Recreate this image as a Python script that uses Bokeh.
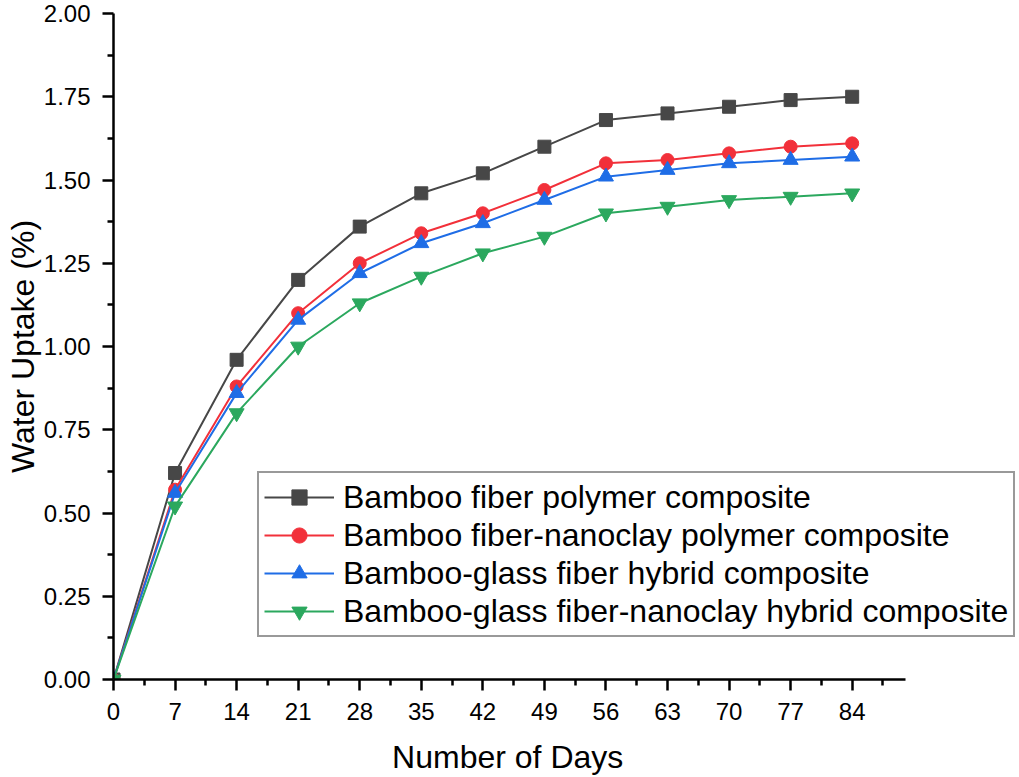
from bokeh.plotting import figure
from bokeh.models import FixedTicker, NumeralTickFormatter, Legend, LegendItem, Range1d
from bokeh.embed import file_html
from bokeh.resources import INLINE

days = [0, 7, 14, 21, 28, 35, 42, 49, 56, 63, 70, 77, 84]
bamboo = [0.0, 0.62, 0.96, 1.20, 1.36, 1.46, 1.52, 1.60, 1.68, 1.70, 1.72, 1.74, 1.75]
bamboo_nano = [0.0, 0.57, 0.88, 1.10, 1.25, 1.34, 1.40, 1.47, 1.55, 1.56, 1.58, 1.60, 1.61]
bamboo_glass = [0.0, 0.56, 0.86, 1.08, 1.22, 1.31, 1.37, 1.44, 1.51, 1.53, 1.55, 1.56, 1.57]
bamboo_glass_nano = [0.0, 0.52, 0.80, 1.00, 1.13, 1.21, 1.28, 1.33, 1.40, 1.42, 1.44, 1.45, 1.46]

labels = [
    "Bamboo fiber polymer composite",
    "Bamboo fiber-nanoclay polymer composite",
    "Bamboo-glass fiber hybrid composite",
    "Bamboo-glass fiber-nanoclay hybrid composite",
]
colors = ["#474747", "#f2303a", "#1f6de6", "#2ba85e"]
markers = ["square", "circle", "triangle", "inverted_triangle"]
sizes = [13, 13, 15, 15]
series = [bamboo, bamboo_nano, bamboo_glass, bamboo_glass_nano]

x_major = [0, 7, 14, 21, 28, 35, 42, 49, 56, 63, 70, 77, 84]
x_minor = [3.5, 10.5, 17.5, 24.5, 31.5, 38.5, 45.5, 52.5, 59.5, 66.5, 73.5, 80.5, 87.5]
y_major = [0.0, 0.25, 0.5, 0.75, 1.0, 1.25, 1.5, 1.75, 2.0]
y_minor = [0.125, 0.375, 0.625, 0.875, 1.125, 1.375, 1.625, 1.875]

FONT = "Liberation Sans"
NBSP = "\u00a0"

p = figure(width=1019, height=777, output_backend="svg", toolbar_location=None,
           x_range=Range1d(0, 102.8), y_range=Range1d(0, 2.0),
           min_border_left=113, min_border_top=13, min_border_bottom=98, min_border_right=2)
p.outline_line_color = None
p.xgrid.visible = False
p.ygrid.visible = False
p.background_fill_color = "white"
p.border_fill_color = "white"

items = []
for ys, lab, col, mk, sz in zip(series, labels, colors, markers, sizes):
    ln = p.line(days, ys, line_color=col, line_width=2)
    sc = p.scatter(days, ys, marker=mk, size=sz, fill_color=col, line_color=col)
    items.append(LegendItem(label=lab, renderers=[ln, sc]))

for ax in (p.xaxis[0], p.yaxis[0]):
    ax.axis_line_width = 2.5
    ax.axis_line_color = "black"
    ax.major_tick_line_width = 2.5
    ax.minor_tick_line_width = 2.5
    ax.major_tick_line_color = "black"
    ax.minor_tick_line_color = "black"
    ax.major_tick_in = 0
    ax.minor_tick_in = 0
    ax.major_tick_out = 11
    ax.minor_tick_out = 6
    ax.major_label_text_font = FONT
    ax.major_label_text_font_size = "24px"
    ax.major_label_text_color = "black"
    ax.axis_label_text_font = FONT
    ax.axis_label_text_font_style = "normal"
    ax.axis_label_text_color = "black"
    ax.axis_label_text_font_size = "32px"

p.xaxis[0].bounds = (0, 90.1)
p.xaxis[0].ticker = FixedTicker(ticks=x_major, minor_ticks=x_minor)
p.yaxis[0].ticker = FixedTicker(ticks=y_major, minor_ticks=y_minor)
p.yaxis[0].formatter = NumeralTickFormatter(format="0.00")
p.yaxis[0].axis_label = "Water Uptake (%)"
# trailing no-break spaces shift the centred title onto the axis' own centre
p.xaxis[0].axis_label = "Number of Days" + NBSP * 13
p.xaxis[0].major_label_standoff = 12
p.xaxis[0].axis_label_standoff = 16
p.yaxis[0].major_label_standoff = 12
p.yaxis[0].axis_label_standoff = 0

legend = Legend(items=items, location=(144, 42))
legend.label_text_font = FONT
legend.label_text_font_size = "32px"
legend.label_text_color = "black"
legend.border_line_color = "#333333"
legend.border_line_width = 2
legend.background_fill_color = "white"
legend.background_fill_alpha = 1
legend.padding = 5
legend.spacing = 0
legend.margin = 0
legend.glyph_width = 70
legend.glyph_height = 38
legend.label_height = 38
legend.label_standoff = 9
p.add_layout(legend, "center")

open("out.html", "w").write(file_html(p, INLINE))
